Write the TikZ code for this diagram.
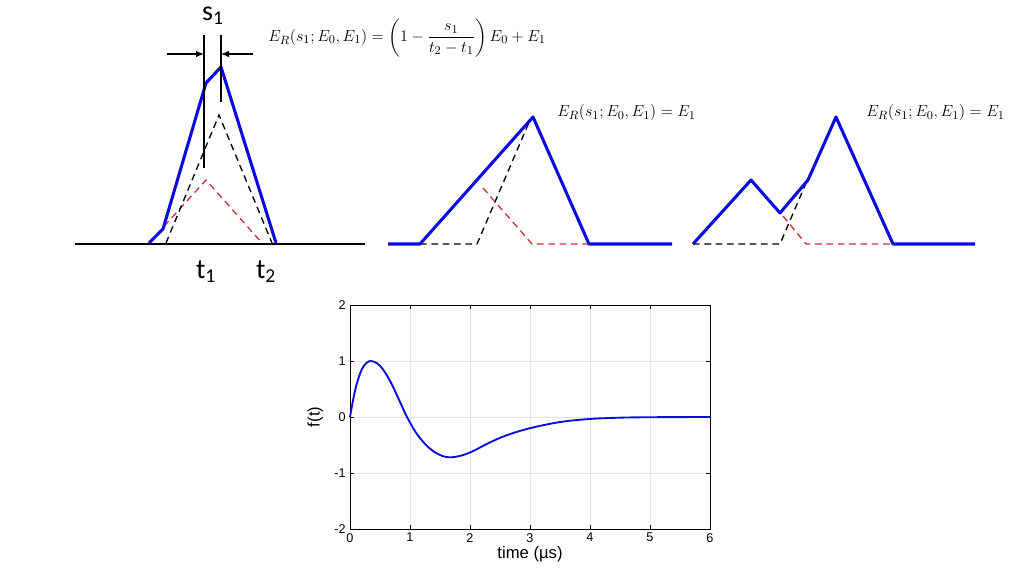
\documentclass[tikz,border=0pt]{standalone}
\usepackage{amsmath}
\usepackage{fontspec}
\setmainfont{Liberation Serif}
\newfontfamily\labelfont{Carlito}
\newfontfamily\plotfont{Liberation Sans}
\usetikzlibrary{arrows.meta}

\definecolor{pulseblue}{RGB}{10,10,225}
\definecolor{dashred}{RGB}{205,50,50}

\begin{document}
\begin{tikzpicture}[
  x=0.75pt, y=-0.75pt,
  sumline/.style={draw=pulseblue, line width=2.3pt, line join=round},
  baseline/.style={draw=black, line width=2pt},
  blackdash/.style={draw=black, dash pattern=on 5pt off 3.5pt, line width=1pt},
  reddash/.style={draw=dashred, dash pattern=on 5pt off 3.5pt, line width=1pt},
  marker/.style={draw=black, line width=0.9pt},
  dimarr/.style={-{Latex[length=6pt, width=5pt]}, line width=0.9pt},
  bigtxt/.style={font=\labelfont\fontsize{21}{24}\selectfont, inner sep=0pt},
  formula/.style={font=\fontsize{12.2}{14}\selectfont, anchor=west, inner sep=0pt},
  formulab/.style={formula, font=\fontsize{12.9}{15}\selectfont},
  gridline/.style={draw=gray!22, line width=0.4pt},
  ticklbl/.style={font=\plotfont\fontsize{9.5}{11}\selectfont, inner sep=3pt},
  axlbl/.style={font=\plotfont\fontsize{12.5}{14}\selectfont, inner sep=0pt},
  fcurve/.style={draw=pulseblue, line width=1.4pt}
]
  \useasboundingbox (0,0) rectangle (1034,573);

  % Panel 1: overlapping pulses
  \draw[reddash]   (149,243) -- (206,180) -- (262,243);
  \draw[blackdash] (166,243) -- (219,115) -- (272,243);
  \draw[baseline]  (75,244) -- (365,244);
  \draw[sumline]   (149,243) -- (163,229) -- (206,83) -- (221,67) -- (276,243);
  \coordinate (m1top) at (204,35);
  \coordinate (m1bot) at (204,168);
  \coordinate (m2top) at (221,35);
  \coordinate (m2bot) at (221,102);
  \draw[marker] (m1top) -- (m1bot);
  \draw[marker] (m2top) -- (m2bot);
  \coordinate (al) at (167,54);
  \coordinate (ar) at (253,54);
  \draw[dimarr] (al) -- (m1top |- al);
  \draw[dimarr] (ar) -- (m2top |- ar);
  \node[bigtxt] (s1) at (213,16) {s\textsubscript{1}};
  \node[bigtxt] (t1) at (206,272) {t\textsubscript{1}};
  \node[bigtxt] (t2) at (266,272) {t\textsubscript{2}};
  \node[formula] (eq1) at (268,37)
    {$E_R(s_1;E_0,E_1)=\left(1-\dfrac{s_1}{t_2-t_1}\vphantom{\dfrac{A^2}{A_2}}\right)E_0+E_1$};

  % Panel 2: separated pulses
  \draw[blackdash] (420,244) -- (477,244) -- (530,120);
  \draw[reddash]   (483,188) -- (532,244) -- (589,244);
  \draw[sumline]   (388,244) -- (420,244) -- (533,117) -- (589,244) -- (672,244);
  \node[formulab] (eq2) at (557,113) {$E_R(s_1;E_0,E_1)=E_1$};

  % Panel 3: double peak
  \draw[blackdash] (693,244) -- (780,244) -- (806,183);
  \draw[reddash]   (783,216) -- (806,244) -- (893,244);
  \draw[sumline]   (693,244) -- (751,180) -- (780,213) -- (808,180) -- (836,117)
                   -- (893,244) -- (975,244);
  \node[formulab] (eq3) at (866,113) {$E_R(s_1;E_0,E_1)=E_1$};

  % Plot of f(t)
  \begin{scope}[shift={(350,417)}, x=45pt, y=42pt]
    \draw[gridline, step=1] (0,-2) grid (6,2);
    \foreach \t in {0,...,6} {
      \draw (\t,-2) -- ++(0,0.07);
      \draw (\t,2) -- ++(0,-0.07);
      \node[ticklbl, anchor=north] at (\t,-2) {\t};
    }
    \foreach \v/\vl in {-2/-2,-1/-1,0/0,1/1,2/2} {
      \draw (0,\v) -- ++(0.07,0);
      \draw (6,\v) -- ++(-0.07,0);
      \node[ticklbl, anchor=east] at (0,\v) {\vl};
    }
    \draw[line width=0.6pt] (0,-2) rectangle (6,2);
    \draw[fcurve] plot[smooth, tension=0.55] coordinates {
      (0,0) (0.06,0.35) (0.12,0.62) (0.2,0.86) (0.28,0.97) (0.35,1.0)
      (0.45,0.96) (0.55,0.85) (0.68,0.62) (0.82,0.3) (0.95,0)
      (1.1,-0.28) (1.25,-0.48) (1.4,-0.62) (1.55,-0.7) (1.68,-0.72)
      (1.85,-0.69) (2.05,-0.61) (2.3,-0.47) (2.6,-0.33) (3,-0.2)
      (3.5,-0.09) (4,-0.035) (4.5,-0.012) (5,-0.004) (6,0)};
    \node[axlbl] (xl) at (3,-2.45) {time (\textmu s)};
    \node[axlbl, rotate=90] (yl) at (-0.58,0) {f(t)};
  \end{scope}
\end{tikzpicture}
\end{document}
